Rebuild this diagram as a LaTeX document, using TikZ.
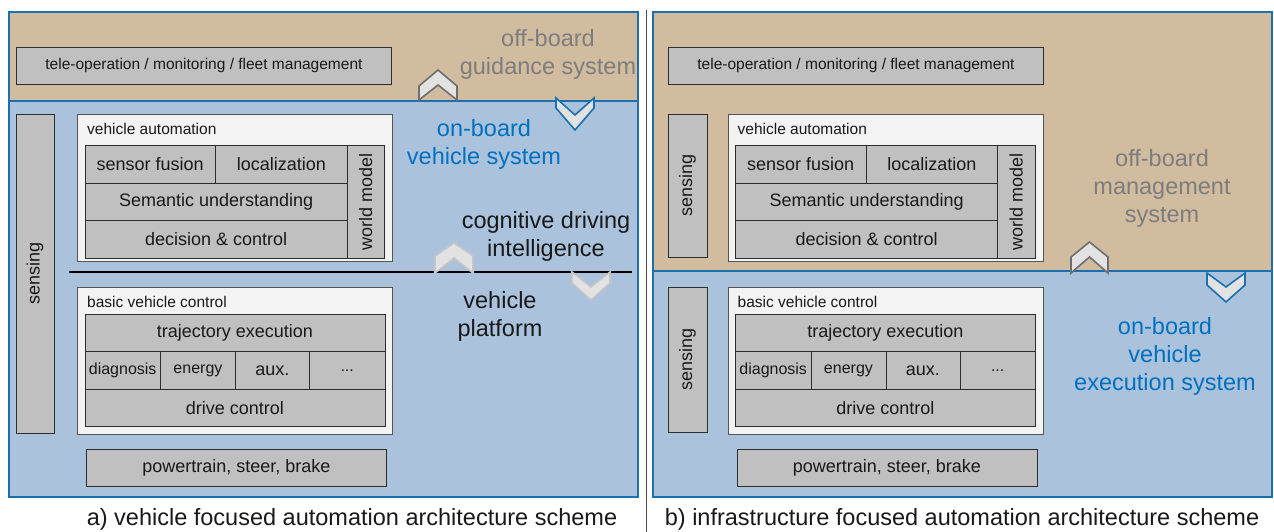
\documentclass[tikz,border=0pt]{standalone}
\usepackage{fontspec}
\setmainfont{Liberation Sans}
\usetikzlibrary{positioning}
\definecolor{tanfill}{RGB}{210,188,160}
\definecolor{bluefill}{RGB}{171,194,221}
\definecolor{edgeblue}{RGB}{28,112,176}
\definecolor{cellgrey}{RGB}{192,192,192}
\definecolor{cellline}{RGB}{45,45,45}
\definecolor{framefill}{RGB}{243,243,243}
\definecolor{frameline}{RGB}{85,85,85}
\definecolor{txtdark}{RGB}{25,25,25}
\definecolor{lblgrey}{RGB}{125,125,125}
\definecolor{lblblue}{RGB}{0,112,192}
\definecolor{chevfill}{RGB}{226,226,226}
\definecolor{chevdark}{RGB}{110,110,110}
\definecolor{chevpale}{RGB}{198,198,198}
\newcommand{\smalltxt}{\fontsize{15.5}{18}\selectfont}
\newcommand{\midtxt}{\fontsize{16}{19}\selectfont}
\newcommand{\boxtxt}{\fontsize{18}{21}\selectfont}
\newcommand{\bigtxt}{\fontsize{23.5}{28}\selectfont}
\tikzset{
  panel/.style={draw=edgeblue, line width=1.8pt, inner sep=0pt, anchor=north west},
  offpanel/.style={panel, fill=tanfill},
  onpanel/.style={panel, fill=bluefill},
  frame/.style={draw=frameline, fill=framefill, line width=0.9pt, inner sep=0pt, anchor=north west},
  cell/.style={draw=cellline, fill=cellgrey, line width=0.9pt, inner sep=0pt, anchor=north west, font=\boxtxt, text=txtdark},
  title/.style={inner sep=0pt, font=\smalltxt, text=txtdark},
  biglbl/.style={inner sep=0pt, align=center, font=\bigtxt},
  caption/.style={inner sep=0pt, font=\bigtxt, text=txtdark},
  cutline/.style={draw=black, line width=1.8pt},
  divline/.style={draw=black!70, line width=1pt},
  chevgrey/.style={draw=chevdark, fill=chevfill, line width=1.6pt},
  chevblue/.style={draw=edgeblue, fill=chevfill, line width=1.6pt},
  chevpale/.style={draw=chevpale, fill=chevfill, line width=1.6pt}
}
\begin{document}
\begin{tikzpicture}[x=1pt,y=-1pt]
\useasboundingbox (0,0) rectangle (1274,532);

% outer panels
\node[offpanel, minimum width=629, minimum height=89] (offA) at (8,11) {};
\node[onpanel, minimum width=629, minimum height=396] (onA) at (8,100) {};
\node[offpanel, minimum width=619, minimum height=260] (offB) at (652,11) {};
\node[onpanel, minimum width=619, minimum height=226] (onB) at (652,270) {};

\coordinate (divT) at (646,10);
\coordinate (divB) at (646,532);
\draw[divline] (divT) -- (divB);

% a) vehicle focused
\begin{scope}
\node[cell, font=\smalltxt, minimum width=375, minimum height=37] (teleA) at (16,47) {tele-operation / monitoring / fleet management};
\node[cell, anchor=center, rotate=90, minimum width=319, minimum height=38] (senA) at (35,273.5) {sensing};

\node[frame, minimum width=315, minimum height=147] (vaA) at (77,114) {};
\node[title, below right=9pt and 10pt of vaA.north west] (vaAtitle) {vehicle automation};
\node[cell, minimum width=130.5, minimum height=38] (fusA) at (84.5,145) {sensor fusion};
\node[cell, minimum width=132, minimum height=38] (locA) at (215,145) {localization};
\node[cell, minimum width=262.5, minimum height=37] (semA) at (84.5,183) {Semantic understanding};
\node[cell, minimum width=262.5, minimum height=38] (decA) at (84.5,220) {decision \& control};
\node[cell, anchor=center, rotate=90, minimum width=113, minimum height=37.5] (wmA) at (365.75,201.5) {world model};

\coordinate (cutL) at (69,272);
\coordinate (cutR) at (632,272);
\draw[cutline] (cutL) -- (cutR);

\node[frame, minimum width=315, minimum height=147] (bvA) at (77,287) {};
\node[title, below right=9pt and 10pt of bvA.north west] (bvAtitle) {basic vehicle control};
\node[cell, minimum width=300, minimum height=37] (trajA) at (84.5,314) {trajectory execution};
\node[cell, font=\midtxt, minimum width=75.5, minimum height=38] (diagA) at (84.5,351) {diagnosis};
\node[cell, font=\midtxt, minimum width=75, minimum height=38] (enA) at (160,351) {energy};
\node[cell, minimum width=74, minimum height=38] (auxA) at (235,351) {aux.};
\node[cell, font=\midtxt, minimum width=75.5, minimum height=38] (dotsA) at (309,351) {...};
\node[cell, minimum width=300, minimum height=37] (driveA) at (84.5,389) {drive control};
\node[cell, minimum width=300, minimum height=37] (ptA) at (86,449) {powertrain, steer, brake};

\node[biglbl, text=lblgrey] (offAlbl) at (548,54) {off-board\\guidance system};
\node[biglbl, text=lblblue] (onAlbl) at (484,144) {on-board\\vehicle system};
\node[biglbl, text=txtdark] (cogA) at (546,236) {cognitive driving\\intelligence};
\node[biglbl, text=txtdark] (platA) at (500,316) {vehicle\\platform};

\draw[chevgrey] (419,100) -- ++(0,-14) -- ++(19,-16) -- ++(19,16) -- ++(0,14) -- ++(-19,-15) -- cycle;
\draw[chevblue] (556,98) -- ++(0,10) -- ++(19,22) -- ++(19,-22) -- ++(0,-10) -- ++(-19,17) -- cycle;
\draw[chevpale] (435,273) -- ++(0,-17) -- ++(19,-13) -- ++(19,13) -- ++(0,17) -- ++(-19,-15) -- cycle;
\draw[chevpale] (572,272) -- ++(0,11) -- ++(19,17) -- ++(19,-17) -- ++(0,-11) -- ++(-19,15) -- cycle;

\node[caption] (capA) at (352,519) {a) vehicle focused automation architecture scheme};
\end{scope}

% b) infrastructure focused
\begin{scope}[xshift=650.5pt]
\node[cell, font=\smalltxt, minimum width=375, minimum height=37] (teleB) at (17.5,47) {tele-operation / monitoring / fleet management};
\node[cell, anchor=center, rotate=90, minimum width=143, minimum height=39] (senB) at (37,185.5) {sensing};
\node[cell, anchor=center, rotate=90, minimum width=145, minimum height=39] (senBlow) at (37,359.5) {sensing};

\node[frame, minimum width=315, minimum height=147] (vaB) at (77,114) {};
\node[title, below right=9pt and 10pt of vaB.north west] (vaBtitle) {vehicle automation};
\node[cell, minimum width=130.5, minimum height=38] (fusB) at (84.5,145) {sensor fusion};
\node[cell, minimum width=132, minimum height=38] (locB) at (215,145) {localization};
\node[cell, minimum width=262.5, minimum height=37] (semB) at (84.5,183) {Semantic understanding};
\node[cell, minimum width=262.5, minimum height=38] (decB) at (84.5,220) {decision \& control};
\node[cell, anchor=center, rotate=90, minimum width=113, minimum height=37.5] (wmB) at (365.75,201.5) {world model};

\node[frame, minimum width=315, minimum height=147] (bvB) at (77,287) {};
\node[title, below right=9pt and 10pt of bvB.north west] (bvBtitle) {basic vehicle control};
\node[cell, minimum width=300, minimum height=37] (trajB) at (84.5,314) {trajectory execution};
\node[cell, font=\midtxt, minimum width=75.5, minimum height=38] (diagB) at (84.5,351) {diagnosis};
\node[cell, font=\midtxt, minimum width=75, minimum height=38] (enB) at (160,351) {energy};
\node[cell, minimum width=74, minimum height=38] (auxB) at (235,351) {aux.};
\node[cell, font=\midtxt, minimum width=75.5, minimum height=38] (dotsB) at (309,351) {...};
\node[cell, minimum width=300, minimum height=37] (driveB) at (84.5,389) {drive control};
\node[cell, minimum width=300, minimum height=37] (ptB) at (86,449) {powertrain, steer, brake};

\node[biglbl, text=lblgrey] (offBlbl) at (511.5,188) {off-board\\management\\system};
\node[biglbl, text=lblblue] (onBlbl) at (514.5,356) {on-board\\vehicle\\execution system};

\draw[chevgrey] (420.5,273) -- ++(0,-16) -- ++(18.5,-15) -- ++(18.5,15) -- ++(0,16) -- ++(-18.5,-16) -- cycle;
\draw[chevblue] (556.5,273) -- ++(0,12) -- ++(19,17) -- ++(19,-17) -- ++(0,-12) -- ++(-19,14) -- cycle;

\node[caption] (capB) at (311.5,519) {b) infrastructure focused automation architecture scheme};
\end{scope}
\end{tikzpicture}
\end{document}
